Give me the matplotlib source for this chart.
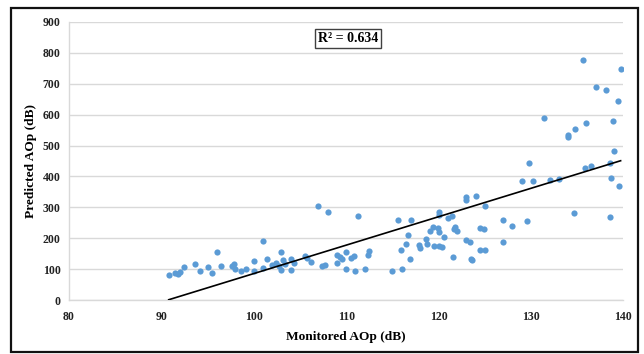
import numpy as np
import matplotlib
matplotlib.use("Agg")
import matplotlib.pyplot as plt
from matplotlib.patches import Rectangle

# monitored vs predicted air overpressure (dB)
monitored = [
    90.8, 91.5, 91.8, 92.0, 92.5, 93.6, 94.2, 95.0, 95.5, 96.0,
    96.5, 97.6, 97.9, 98.0, 98.6, 99.2, 100.0, 100.0, 101.0, 101.0,
    101.4, 102.0, 102.4, 102.7, 102.9, 102.9, 103.2, 103.4, 104.0, 104.0,
    104.4, 105.5, 105.8, 106.2, 107.0, 107.4, 107.7, 108.0, 109.0, 109.0,
    109.3, 109.6, 110.0, 110.0, 110.5, 110.8, 111.0, 111.3, 112.0, 112.4,
    112.5, 115.0, 115.6, 115.9, 116.0, 116.5, 116.7, 116.9, 117.0, 117.9,
    118.0, 118.6, 118.7, 119.1, 119.4, 119.5, 119.9, 120.0, 120.0, 120.0,
    120.0, 120.4, 120.6, 121.0, 121.4, 121.6, 121.7, 121.8, 122.0, 123.0,
    123.0, 123.0, 123.4, 123.5, 123.6, 124.0, 124.5, 124.9, 124.5, 125.0,
    125.0, 127.0, 127.0, 128.0, 129.0, 129.6, 129.8, 130.2, 131.4, 132.1,
    133.0, 134.0, 134.0, 134.7, 134.8, 135.6, 135.8, 135.9, 136.5, 137.0,
    138.1, 138.6, 138.5, 138.7, 138.9, 139.0, 139.4, 139.5, 139.7,
]
predicted = [
    80, 89, 84, 91, 106, 116, 94, 106, 86, 155,
    111, 109, 117, 100, 95, 100, 125, 95, 190, 103,
    134, 113, 120, 110, 98, 157, 129, 118, 132, 97,
    119, 143, 137, 122, 305, 111, 114, 285, 119, 145,
    139, 134, 157, 100, 135, 143, 94, 273, 101, 145,
    159, 94, 260, 162, 101, 181, 212, 134, 260, 178,
    168, 199, 182, 222, 237, 174, 234, 284, 275, 220,
    176, 171, 205, 265, 271, 138, 229, 237, 222, 332,
    325, 195, 188, 134, 128, 338, 233, 231, 163, 163,
    303, 260, 188, 240, 385, 255, 444, 385, 590, 390,
    392, 533, 527, 282, 555, 776, 428, 572, 435, 688,
    679, 268, 442, 395, 580, 482, 644, 368, 748,
]
r2_label = "R\u00b2 = 0.634"

x = np.array(monitored)
y = np.array(predicted)
slope, intercept = np.polyfit(x, y, 1)

plt.rcParams["font.family"] = ["Liberation Serif", "DejaVu Serif"]
plt.rcParams["font.weight"] = "bold"

fig = plt.figure(figsize=(6.44, 3.54), dpi=100)
fig.patches.append(Rectangle((0.017, 0.006), 0.973, 0.972, transform=fig.transFigure,
                             fill=False, edgecolor="#111111", linewidth=1.6))
ax = fig.add_axes([0.107, 0.1525, 0.861, 0.7855])

ax.scatter(x, y, s=20, color="#5B9BD5", linewidths=0, zorder=3)
xs = np.array([x.min(), x.max()])
ax.plot(xs, slope * xs + intercept, color="black", linewidth=1.2, zorder=4)

ax.set_xlim(80, 140)
ax.set_ylim(0, 900)
ax.set_xticks(np.arange(80, 141, 10))
ax.set_yticks(np.arange(0, 901, 100))
ax.yaxis.grid(True, color="#d9d9d9", linewidth=1.0)
ax.set_axisbelow(True)
for side in ("top", "right"):
    ax.spines[side].set_visible(False)
for side in ("left", "bottom"):
    ax.spines[side].set_color("#d9d9d9")
    ax.spines[side].set_linewidth(1.0)
ax.tick_params(length=0, labelsize=8.5, colors="#222222")
ax.tick_params(axis="y", pad=6)
ax.tick_params(axis="x", pad=8)

ax.set_xlabel("Monitored AOp (dB)", fontsize=9.6, fontweight="bold", labelpad=6)
ax.set_ylabel("Predicted AOp (dB)", fontsize=9.6, fontweight="bold", labelpad=4)

ax.text(0.504, 0.941, r2_label, transform=ax.transAxes, ha="center", va="center",
        fontsize=10, fontweight="bold",
        bbox=dict(boxstyle="square,pad=0.2", facecolor="white", edgecolor="#404040", linewidth=1.0))

fig.savefig("out.png", dpi=100)
